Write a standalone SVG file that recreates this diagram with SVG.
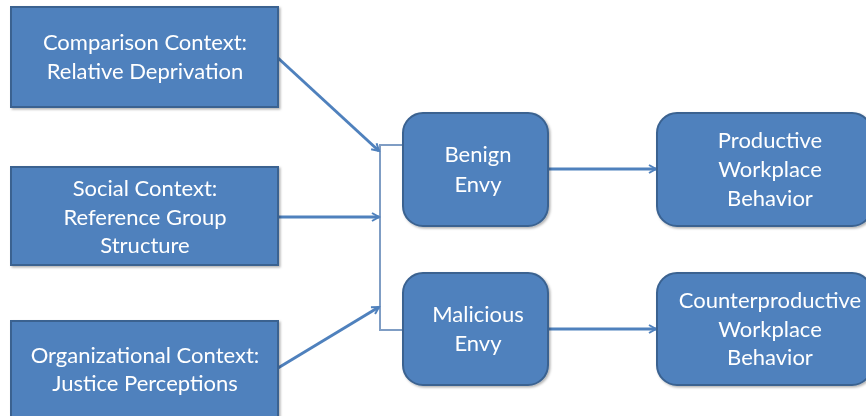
<svg xmlns="http://www.w3.org/2000/svg" width="866" height="416" viewBox="0 0 866 416">
<style>
.box{fill:#4F81BD;stroke:#3A6290;stroke-width:2}
.t{font-family:Lato,"Open Sans","Liberation Sans",sans-serif;font-size:22px;fill:#FFFFFF;text-anchor:middle}
.c{stroke:#4F81BD;stroke-width:3;fill:none}
.j{stroke:#7F9DC4;stroke-width:2;fill:none}
</style>
<defs>
<marker id="ah" markerWidth="10" markerHeight="10" refX="8" refY="5" orient="auto" markerUnits="userSpaceOnUse">
<path d="M1,1 L8,5 L1,9" fill="none" stroke="#4F81BD" stroke-width="2"/>
</marker>
<marker id="ah2" markerWidth="10" markerHeight="10" refX="8" refY="5" orient="auto" markerUnits="userSpaceOnUse">
<path d="M1,1 L8,5 L1,9" fill="none" stroke="#7F9DC4" stroke-width="1.5"/>
</marker>
<filter id="sh" x="-5%" y="-5%" width="115%" height="115%">
<feDropShadow dx="1.5" dy="1.5" stdDeviation="1" flood-color="#000" flood-opacity="0.3"/>
</filter>
</defs>
<g id="connectors">
<polyline class="j" points="403,330 380,330 380,145 427,145 427,160" marker-end="url(#ah2)"/>
<line class="c" x1="278" y1="58" x2="379" y2="151" marker-end="url(#ah)"/>
<line class="c" x1="278" y1="217" x2="379" y2="217" marker-end="url(#ah)"/>
<line class="c" x1="278" y1="368" x2="379" y2="307" marker-end="url(#ah)"/>
<line class="c" x1="548" y1="169" x2="656" y2="169" marker-end="url(#ah)"/>
<line class="c" x1="548" y1="329" x2="656" y2="329" marker-end="url(#ah)"/>
</g>
<g id="comparison" filter="url(#sh)">
<rect class="box" x="11" y="7" width="267" height="100"/>
<text class="t" x="145" y="50">Comparison Context:</text>
<text class="t" x="145" y="79">Relative Deprivation</text>
</g>
<g id="social" filter="url(#sh)">
<rect class="box" x="11" y="167" width="267" height="98"/>
<text class="t" x="145" y="196">Social Context:</text>
<text class="t" x="145" y="225">Reference Group</text>
<text class="t" x="145" y="253">Structure</text>
</g>
<g id="organizational" filter="url(#sh)">
<rect class="box" x="11" y="321" width="267" height="100"/>
<text class="t" x="145" y="363">Organizational Context:</text>
<text class="t" x="145" y="391">Justice Perceptions</text>
</g>
<g id="benign" filter="url(#sh)">
<rect class="box" x="403" y="113" width="145" height="113" rx="20"/>
<text class="t" x="478" y="162">Benign</text>
<text class="t" x="478" y="192">Envy</text>
</g>
<g id="malicious" filter="url(#sh)">
<rect class="box" x="403" y="273" width="145" height="112" rx="20"/>
<text class="t" x="478" y="322">Malicious</text>
<text class="t" x="478" y="351">Envy</text>
</g>
<g id="productive" filter="url(#sh)">
<rect class="box" x="657" y="113" width="215" height="113" rx="20"/>
<text class="t" x="770" y="148">Productive</text>
<text class="t" x="770" y="177">Workplace</text>
<text class="t" x="770" y="206">Behavior</text>
</g>
<g id="counterproductive" filter="url(#sh)">
<rect class="box" x="657" y="273" width="215" height="112" rx="20"/>
<text class="t" x="770" y="308">Counterproductive</text>
<text class="t" x="770" y="337">Workplace</text>
<text class="t" x="770" y="365">Behavior</text>
</g>
</svg>
